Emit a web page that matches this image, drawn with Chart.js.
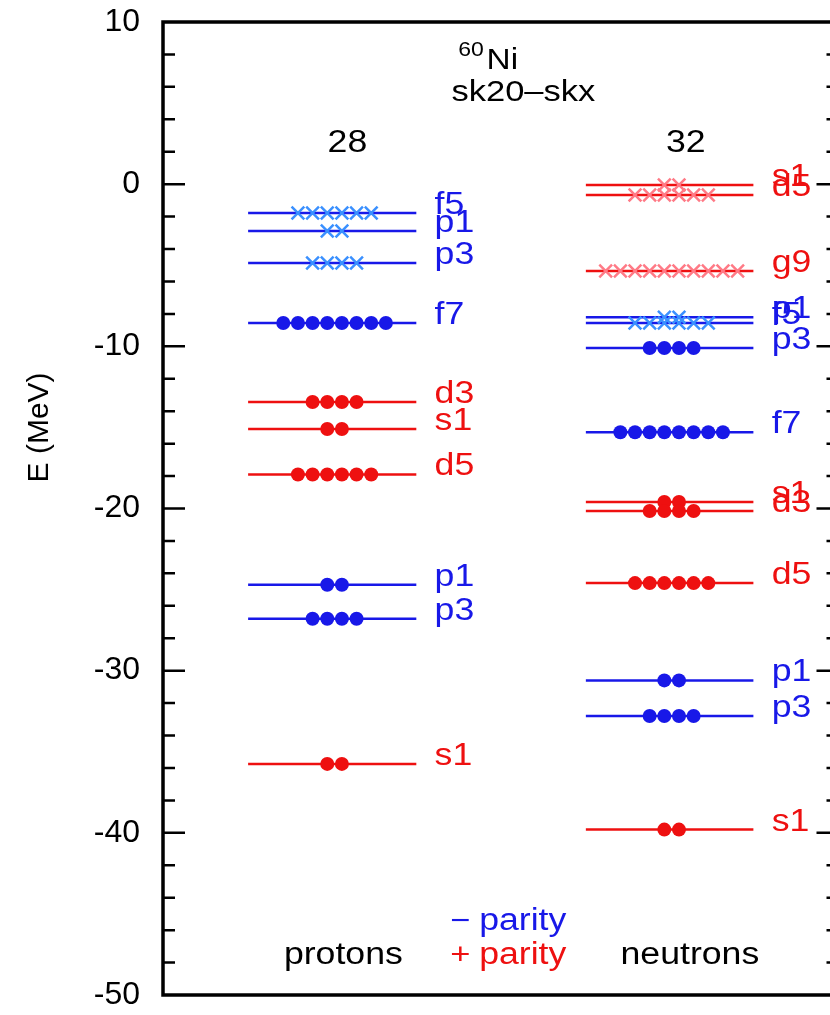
<!DOCTYPE html>
<html>
<head>
<meta charset="utf-8">
<script src="https://cdn.jsdelivr.net/npm/chart.js@4.4.1/dist/chart.umd.min.js"></script>
<style>
  html, body { margin: 0; padding: 0; background: #fff; overflow: hidden; }
</style>
</head>
<body>
<canvas id="levels" width="850" height="1015"></canvas>
<script>
// single-particle levels of 60Ni, sk20-skx

const yTicks = [10, 0, -10, -20, -30, -40, -50];

const protonOrbits   = ['s1', 'p3', 'p1', 'd5', 's1', 'd3', 'f7', 'p3', 'p1', 'f5'];
const protonEnergies = [-35.75, -26.8, -24.7, -17.9, -15.1, -13.43, -8.56, -4.86, -2.89, -1.78];
const protonStates   = [2, 4, 2, 6, 2, 4, 8, 4, 2, 6];
const protonFilled   = [true, true, true, true, true, true, true, false, false, false];

const neutronOrbits   = ['s1', 'p3', 'p1', 'd5', 'd3', 's1', 'f7', 'p3', 'f5', 'p1', 'g9', 'd5', 's1'];
const neutronEnergies = [-39.8, -32.8, -30.6, -24.6, -20.15, -19.6, -15.3, -10.1, -8.56, -8.2, -5.35, -0.67, -0.05];
const neutronStates   = [2, 4, 2, 6, 4, 2, 8, 4, 6, 2, 10, 6, 2];
const neutronFilled   = [true, true, true, true, true, true, true, true, false, false, false, false, false];

const magicNumbers = ['28', '32'];
const columnNames  = ['protons', 'neutrons'];

// layout (x in 0..100 units of the hidden x scale)
const FONT = 'Liberation Sans, Arial, Helvetica, sans-serif';
const SX = 1.15; // the original lettering is a bit wide
const BLUE = '#1818e8', RED = '#ee1010', LIGHT_BLUE = '#3a90ff', PINK = '#ff7a86';
const SPACING = 2.17;
const columns = [
  { from: 12.6, to: 37.5, center: 25.4, labelX: 40.2, headX: 27.3, nameX: 26.7,
    orbits: protonOrbits, energies: protonEnergies, states: protonStates, filled: protonFilled },
  { from: 62.6, to: 87.4, center: 75.3, labelX: 90.1, headX: 77.4, nameX: 78.0,
    orbits: neutronOrbits, energies: neutronEnergies, states: neutronStates, filled: neutronFilled }
];

const isEven = orb => 'sdg'.includes(orb[0]);

const datasets = [];
columns.forEach(col => {
  col.orbits.forEach((orb, i) => {
    const e = col.energies[i];
    const color = isEven(orb) ? RED : BLUE;
    datasets.push({
      data: [{ x: col.from, y: e }, { x: col.to, y: e }],
      showLine: true, borderColor: color, borderWidth: 2.5,
      pointRadius: 0, order: 2
    });
    const n = col.states[i];
    const pts = [];
    for (let k = 0; k < n; k++) pts.push({ x: col.center + (k - (n - 1) / 2) * SPACING, y: e });
    if (col.filled[i]) {
      datasets.push({ data: pts, pointStyle: 'circle', pointRadius: 7,
        backgroundColor: color, borderWidth: 0, order: 1 });
    } else {
      datasets.push({ data: pts, pointStyle: 'crossRot', pointRadius: 9,
        borderColor: isEven(orb) ? PINK : LIGHT_BLUE, borderWidth: 2.5, order: 1 });
    }
  });
});

function txt(ctx, s, px, py, size, color, align) {
  ctx.save();
  ctx.font = size + 'px ' + FONT;
  ctx.fillStyle = color;
  ctx.textBaseline = 'alphabetic';
  ctx.textAlign = align || 'left';
  ctx.translate(px, py);
  ctx.scale(SX, 1);
  ctx.fillText(s, 0, 0);
  ctx.restore();
}

const decor = {
  id: 'decor',
  afterDraw(chart) {
    const { ctx, chartArea: a, scales: { x, y } } = chart;
    ctx.save();
    ctx.strokeStyle = '#000';
    // inward ticks, both sides
    ctx.lineWidth = 2.5;
    for (let v = -48; v < 10; v += 2) {
      const py = y.getPixelForValue(v);
      const len = v % 10 === 0 ? 22 : 12;
      ctx.beginPath();
      ctx.moveTo(a.left, py); ctx.lineTo(a.left + len, py);
      ctx.moveTo(a.right, py); ctx.lineTo(a.right - len, py);
      ctx.stroke();
    }
    ctx.lineWidth = 3.5;
    ctx.strokeRect(a.left, a.top, a.right - a.left, a.bottom - a.top);
    ctx.restore();

    // level labels
    columns.forEach((col, c) => {
      col.orbits.forEach((orb, i) => {
        txt(ctx, orb, x.getPixelForValue(col.labelX), y.getPixelForValue(col.energies[i]) + 1,
          31, isEven(orb) ? RED : BLUE);
      });
      txt(ctx, magicNumbers[c], x.getPixelForValue(col.headX), y.getPixelForValue(2.0), 31, '#000', 'center');
      txt(ctx, columnNames[c], x.getPixelForValue(col.nameX), y.getPixelForValue(-48.1), 31, '#000', 'center');
    });

    // nucleus and interaction
    txt(ctx, '60', x.getPixelForValue(43.7), y.getPixelForValue(7.9), 20, '#000');
    txt(ctx, 'Ni', x.getPixelForValue(47.9), y.getPixelForValue(7.1), 29, '#000');
    txt(ctx, 'sk20\u2013skx', x.getPixelForValue(42.7), y.getPixelForValue(5.1), 30, '#000');

    // parity key
    txt(ctx, '\u2212', x.getPixelForValue(44.0), y.getPixelForValue(-46.0), 30, BLUE, 'center');
    txt(ctx, 'parity', x.getPixelForValue(46.8), y.getPixelForValue(-46.0), 31, BLUE);
    txt(ctx, '+', x.getPixelForValue(44.0), y.getPixelForValue(-48.1), 30, RED, 'center');
    txt(ctx, 'parity', x.getPixelForValue(46.8), y.getPixelForValue(-48.1), 31, RED);

    // axis title
    ctx.save();
    ctx.translate(a.left - 123, y.getPixelForValue(-15.0));
    ctx.rotate(-Math.PI / 2);
    ctx.font = '30px ' + FONT;
    ctx.fillStyle = '#000';
    ctx.textAlign = 'center';
    ctx.textBaseline = 'middle';
    ctx.fillText('E (MeV)', 0, 0);
    ctx.restore();
  }
};

new Chart(document.getElementById('levels'), {
  type: 'scatter',
  data: { datasets },
  options: {
    responsive: false,
    animation: false,
    events: [],
    layout: { padding: { top: 22, bottom: 20, right: 10, left: 0 } },
    plugins: { legend: { display: false }, tooltip: { enabled: false } },
    scales: {
      x: { type: 'linear', display: false, min: 0, max: 100 },
      y: {
        type: 'linear', min: -50, max: 10,
        afterBuildTicks: s => { s.ticks = yTicks.map(v => ({ value: v })); },
        afterFit: s => { s.width = 163; },
        // tick marks are drawn inward by the plugin; tickLength only spaces the labels
        grid: { display: false, drawTicks: true, tickLength: 23 },
        border: { display: false },
        ticks: { font: { family: FONT, size: 32 }, color: '#000', padding: 0 }
      }
    }
  },
  plugins: [decor]
});
</script>
</body>
</html>
